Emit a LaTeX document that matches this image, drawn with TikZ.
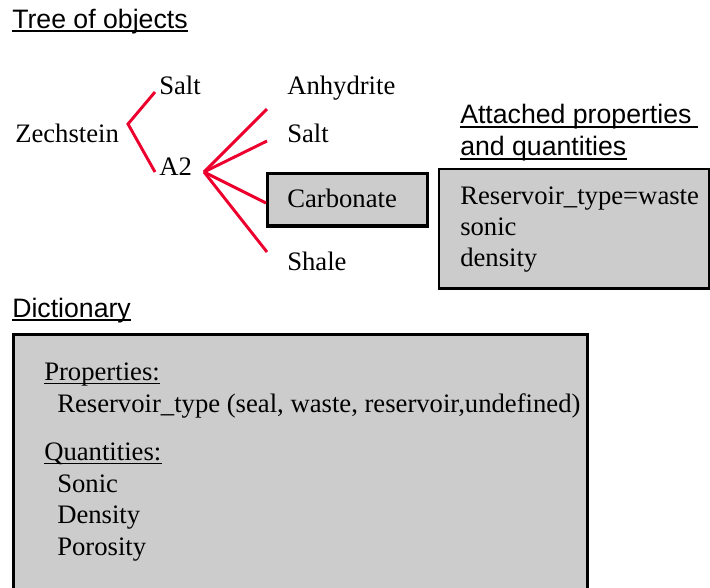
\documentclass[tikz,border=0pt]{standalone}
\usepackage{fontspec}
\setmainfont{Liberation Serif}
\setsansfont{Liberation Sans}
\definecolor{treered}{RGB}{236,0,45}
\definecolor{boxgray}{RGB}{204,204,204}
\tikzset{
  txt/.style={anchor=base west, inner sep=0pt, font=\rmfamily\fontsize{20}{24}\selectfont},
  head/.style={anchor=base west, inner sep=0pt, font=\sffamily\fontsize{20}{24}\selectfont},
  uline/.style={line width=1.1pt},
  suline/.style={line width=0.8pt},
  branch/.style={draw=treered, line width=2.2pt},
  graybox/.style={draw=black, fill=boxgray},
}
\begin{document}
\begin{tikzpicture}[x=0.75pt,y=-0.75pt]
\useasboundingbox (0,0) rectangle (710,587);
\clip (0,0) rectangle (710,587);
% boxes
\draw[graybox, line width=1.6pt] (439,169) rectangle (709.5,288.5);
\draw[graybox, line width=2.3pt] (267.5,173.5) rectangle (427.5,226);
\draw[graybox, line width=2.3pt] (13.5,334.5) rectangle (587.5,610);
% headings
\node[head] (hTree) at (12,28) {Tree of objects};
\draw[uline] ([yshift=-2.3pt]hTree.base west) -- ([yshift=-2.3pt]hTree.base east);
\node[head] (hAtt) at (460,123) {Attached properties};
\draw[uline] ([yshift=-3pt]hAtt.base west) -- ([yshift=-3pt,xshift=5pt]hAtt.base east);
\node[head] (hAnd) at (460,155) {and quantities};
\draw[uline] ([yshift=-3pt]hAnd.base west) -- ([yshift=-3pt]hAnd.base east);
\node[head] (hDict) at (12,317) {Dictionary};
\draw[uline] ([yshift=-2.4pt]hDict.base west) -- ([yshift=-2.4pt]hDict.base east);
% tree
\node[txt] (zech) at (15,142) {Zechstein};
\node[txt] (salt1) at (159,94) {Salt};
\node[txt] (a2) at (159,175) {A2};
\node[txt] (anhy) at (287,94) {Anhydrite};
\node[txt] (salt2) at (287,142) {Salt};
\node[txt] (carb) at (287,207) {Carbonate};
\node[txt] (shale) at (287,270) {Shale};
\coordinate (zv) at (128,124);
\coordinate (zs) at (155,92);
\coordinate (za) at (155,172);
\coordinate (av) at (204,172);
\coordinate (e1) at (267,109);
\coordinate (e2) at (267,141);
\coordinate (e3) at (266,203);
\coordinate (e4) at (267,252);
\draw[branch] (zs) -- (zv) -- (za);
\draw[branch] (av) -- (e1);
\draw[branch] (av) -- (e2);
\draw[branch] (av) -- (e3);
\draw[branch] (av) -- (e4);
% attached
\node[txt] (att1) at (460,204) {Reservoir\_type=waste};
\node[txt] (att2) at (460,235) {sonic};
\node[txt] (att3) at (460,266) {density};
% dictionary
\node[txt] (prop) at (44,380) {Properties:};
\draw[suline] ([yshift=-2.8pt]prop.base west) -- ([yshift=-2.8pt]prop.base east);
\node[txt] (rt) at (57,412) {Reservoir\_type (seal, waste, reservoir,undefined)};
\node[txt] (quant) at (44,460) {Quantities:};
\draw[suline] ([yshift=-2.8pt]quant.base west) -- ([yshift=-2.8pt]quant.base east);
\node[txt] (q1) at (57,492) {Sonic};
\node[txt] (q2) at (57,523) {Density};
\node[txt] (q3) at (57,555) {Porosity};
\end{tikzpicture}
\end{document}
